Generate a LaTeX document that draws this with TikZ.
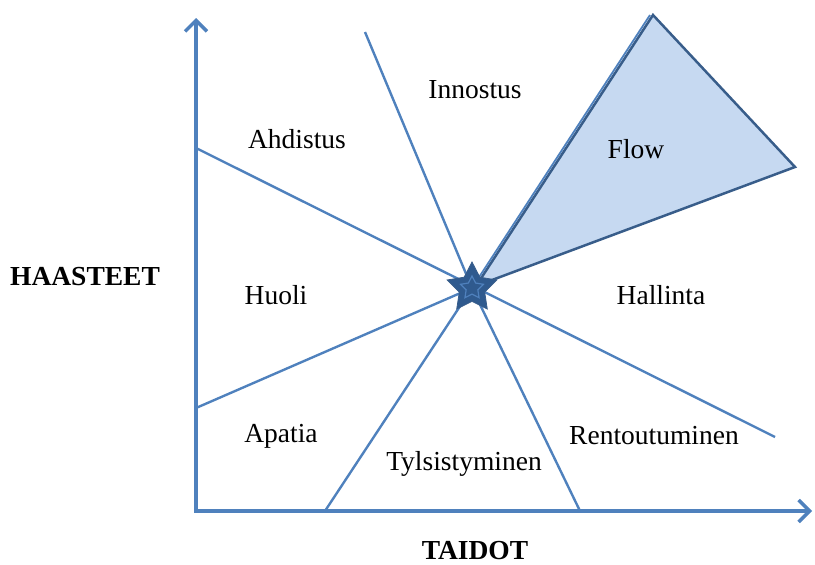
\documentclass[tikz,border=0pt]{standalone}
\usepackage{fontspec}
\setmainfont{Liberation Serif}
\usetikzlibrary{arrows.meta,shapes.geometric}
\definecolor{lineblue}{HTML}{4F81BD}
\definecolor{darkblue}{HTML}{385D8A}
\definecolor{flowfill}{HTML}{C6D9F1}
\definecolor{starfill}{HTML}{2F5A8E}
\tikzset{
  axisline/.style={draw=lineblue,line width=3.5pt,-{Straight Barb[length=11pt,width=22pt]}},
  sepline/.style={draw=lineblue,line width=2.4pt},
  lbl/.style={font=\fontsize{27.5}{30}\selectfont,inner sep=0pt},
  axlbl/.style={font=\fontsize{27.5}{30}\selectfont\bfseries,inner sep=0pt},
}
\begin{document}
\begin{tikzpicture}[x=1pt,y=-1pt]
\useasboundingbox (0,0) rectangle (815,565);
% coordinates
\coordinate (o) at (196,511);
\coordinate (ytip) at (196,18);
\coordinate (xtip) at (812,511);
\coordinate (c) at (472,288);
\coordinate (l1) at (365,32);
\coordinate (l2) at (196,148);
\coordinate (l2e) at (775,437);
\coordinate (l3) at (196,408);
\coordinate (l4) at (325,511);
\coordinate (l5) at (580,511);
\coordinate (fa) at (653,15);
\coordinate (fr) at (795,167);
\coordinate (fb) at (476,286);
% flow region
\draw[darkblue,line width=2.5pt,fill=flowfill,line join=miter] (fb) -- (fa) -- (fr) -- cycle;
\draw[lineblue,line width=1.8pt] (c) -- ([xshift=-3pt]fa);
% separators
\draw[sepline] (l1) -- (c);
\draw[sepline] (l2) -- (l2e);
\draw[sepline] (l3) -- (c);
\draw[sepline] (l4) -- (c);
\draw[sepline] (l5) -- (c);
% axes
\draw[axisline] (o) -- (ytip);
\draw[axisline] ([xshift=-1.75pt]o) -- (xtip);
% star
\node[star,star points=5,star point ratio=1.95,minimum size=52pt,inner sep=0pt,
      fill=starfill,draw=darkblue,line width=0.8pt] (s) at (c) {};
\node[star,star points=5,star point ratio=1.95,minimum size=24pt,inner sep=0pt,
      draw=lineblue,line width=1.2pt] (si) at (c) {};
% labels
\node[lbl] (innostus) at (475,90) {Innostus};
\node[lbl] (ahdistus) at (297,139) {Ahdistus};
\node[lbl] (flow) at (636,149) {Flow};
\node[lbl] (huoli) at (276,295) {Huoli};
\node[lbl] (hallinta) at (661,295) {Hallinta};
\node[lbl] (apatia) at (281,436) {Apatia};
\node[lbl] (tyls) at (464,464) {Tylsistyminen};
\node[lbl] (rent) at (654,436) {Rentoutuminen};
\node[axlbl] (haasteet) at (85,277) {HAASTEET};
\node[axlbl] (taidot) at (475,551) {TAIDOT};
\end{tikzpicture}
\end{document}
